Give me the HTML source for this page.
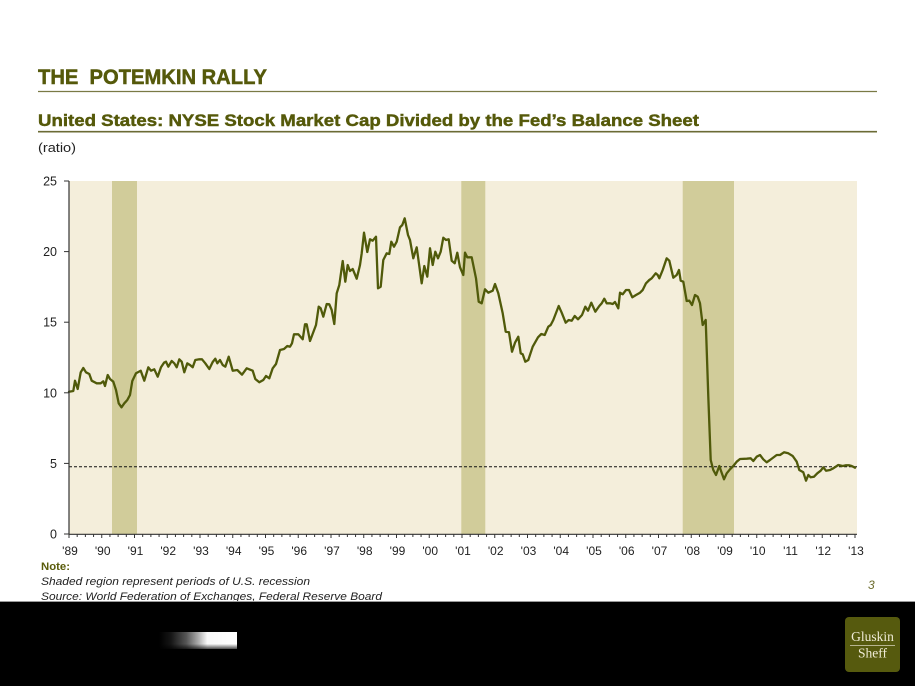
<!DOCTYPE html>
<html>
<head>
<meta charset="utf-8">
<style>
html,body{margin:0;padding:0;background:#fff;}
svg{display:block;}
</style>
</head>
<body>
<svg width="915" height="686" viewBox="0 0 915 686" xmlns="http://www.w3.org/2000/svg">
  <defs>
    <linearGradient id="gbar" x1="0" y1="0" x2="1" y2="0">
      <stop offset="0" stop-color="#000"/>
      <stop offset="0.15" stop-color="#151515"/>
      <stop offset="0.35" stop-color="#555"/>
      <stop offset="0.5" stop-color="#aaa"/>
      <stop offset="0.62" stop-color="#f8f8f8"/>
      <stop offset="1" stop-color="#fff"/>
    </linearGradient>
    <linearGradient id="gfade" x1="0" y1="0" x2="0" y2="1">
      <stop offset="0" stop-color="#000" stop-opacity="0"/>
      <stop offset="0.7" stop-color="#000" stop-opacity="0"/>
      <stop offset="1" stop-color="#000" stop-opacity="0.7"/>
    </linearGradient>
  </defs>

  <!-- Titles -->
  <text x="38" y="84" xml:space="preserve" font-family="Liberation Sans, Arial, sans-serif" font-weight="bold" font-size="21" fill="#55590a" stroke="#55590a" stroke-width="0.5" textLength="229" lengthAdjust="spacingAndGlyphs">THE  POTEMKIN RALLY</text>
  <line x1="38" y1="91.5" x2="877" y2="91.5" stroke="#7a7a45" stroke-width="1.2"/>

  <text x="38" y="126" font-family="Liberation Sans, Arial, sans-serif" font-weight="bold" font-size="17" fill="#55590a" stroke="#55590a" stroke-width="0.45" textLength="661" lengthAdjust="spacingAndGlyphs">United States: NYSE Stock Market Cap Divided by the Fed’s Balance Sheet</text>
  <line x1="38" y1="131.7" x2="877" y2="131.7" stroke="#6b6b35" stroke-width="1.6"/>

  <text x="38" y="152" font-family="Liberation Sans, Arial, sans-serif" font-size="13" fill="#222" textLength="38" lengthAdjust="spacingAndGlyphs">(ratio)</text>

  <!-- Plot area -->
  <rect x="69" y="181" width="788" height="353" fill="#f4eedb"/>
  <rect x="112" y="181" width="25" height="353" fill="#d1cc9a"/>
  <rect x="461.3" y="181" width="24" height="353" fill="#d1cc9a"/>
  <rect x="682.7" y="181" width="51.3" height="353" fill="#d1cc9a"/>

  <!-- dashed line -->
  <line x1="69" y1="466.7" x2="857" y2="466.7" stroke="#111" stroke-width="1" stroke-dasharray="3,2"/>

  <!-- series -->
  <polyline fill="none" stroke="#505a0a" stroke-width="2.3" stroke-linejoin="round" stroke-linecap="round" points="
69,391.7 73.3,391 75,380.7 77.7,389 80.7,372.3 83.3,368 86,372.3 89.3,374 91.7,380.7 96.7,383.3 100.7,383.3 103.3,381.3 105,386 107.7,375 110,379 113.3,381.7 116,390 118.7,403.3 121.5,407.3 124.3,403.3 127.3,400 130,395 132.3,381 136,373.3 140.7,370.7 144.3,380.7 148.3,367.3 151,370.7 154.3,369.3 157.7,376.7 161,367.3 164,362.7 166,361.7 168.3,366.7 171.7,361 174.3,363.3 176.7,367.3 179.3,359.3 181.7,361.7 184.3,372.3 187.3,363.3 190,365 192.7,367.3 195.3,360 199.3,359.3 202,359.3 205.3,363.3 209.3,369 212.7,362 215.3,358.7 217.3,363.3 220,360 222.7,365 225.3,366.7 228.7,356.7 232.7,370.7 237.3,370 242,374.7 246.7,368.3 252.7,370.7 255.3,379 259.3,382.3 263.3,380 266,376 269.3,378.3 272.7,368.3 276,364 280,350 284,349 287.3,346 290,346.7 292,343.3 294,334.3 298.3,334.3 302.7,339.3 305,324.3 306.7,324.3 310,341 316,325 318.7,306.7 320.7,308.3 323.3,316.7 326.7,304 329.3,304.3 331.7,310 334.3,324 336.7,293.3 339.3,285 342.7,261 345.3,281.7 347.7,265 350,271 352.7,269 356.7,278.7 360,265 361.7,253.3 364,232.7 367.3,252 370,239.3 372.7,240.7 376,236.7 378,288.3 380.7,286.7 383.3,260 386.7,253.3 389.3,254 391.3,241.7 394,246.7 396.7,241.7 400,227.3 402.3,225 404.7,218.3 408,235 410,240 413.3,258.3 416.7,247.3 421.7,283.3 424.3,266 427.3,276.7 430,248.3 432.7,265 435.3,251.7 438,258.3 440.7,251.7 443.3,237.7 446,240 448.7,239.3 451.7,260.7 454.7,263.3 457.3,252.7 460,267.3 463.3,275 465,252.7 467.3,257.3 471.7,257.3 476,278.3 478.7,301.7 481.7,303.3 485,289.3 488.3,292.7 492.7,290.7 495,284 498.3,293.3 502.7,313.3 505.7,331.7 509,332.3 512,351.7 515,342.7 518.3,336.7 520.7,353.3 522.7,354.3 525.3,361.7 528.3,360 532.7,346.7 538,337.3 541.3,334 544.7,335 548.3,326.7 550.7,325 553.3,320 558.7,306 561.7,312.7 565.7,322.7 568.7,320 571.7,320.7 574.7,316 578,319.3 582,315 585.3,306.7 588,310.7 591.3,302.7 595.3,311.7 599.3,306 601.7,303.3 604.3,298.7 606.7,303.3 610,303.3 612.7,304 615,302 618.3,308.3 620,292.7 622.7,294.3 626,290 629,290 632.3,297.3 636,295 640,292.7 642.7,290 646,283.3 649.3,280 651.7,278.3 655.7,273.3 657.7,275 659.3,278.3 662.7,270 666.7,258.3 669.3,260.7 673.3,277.7 676.7,275 679,270 680.7,280.7 683.3,281.7 686.7,301 689.3,300.7 692,305 695,295 697.7,296.7 700,303.3 702.7,325 705.7,320 708.3,396.7 710.7,460 713.3,470 716,475 719.3,466 721.3,471.7 724,479.3 726.7,473.3 730,469.3 733.3,466 736.7,461.7 740,459 746.7,458.7 750.7,458.3 753.3,461 756.7,456.7 760,455 763.3,459.3 766.7,462.3 770,460 776.7,455 780,455 784,452.3 788.3,453.3 792.7,456 796.7,461.7 799.3,470 803.3,472.3 806,480.7 808.3,475 810.7,477.3 814,476.7 817.3,473.3 820.7,470.7 823.3,467.3 826,470.7 830,470 833.3,468.3 838.3,465 842.7,466 846,465.3 849.3,465.3 851.7,466 855,467.7"/>

  <!-- axes -->
  <line x1="69" y1="181" x2="69" y2="534.5" stroke="#333" stroke-width="1.2"/>
  <line x1="68.5" y1="534.3" x2="857" y2="534.3" stroke="#333" stroke-width="1.2"/>
  <g stroke="#333" stroke-width="1">
    <line x1="64" y1="181" x2="69" y2="181"/>
    <line x1="64" y1="251.6" x2="69" y2="251.6"/>
    <line x1="64" y1="322.2" x2="69" y2="322.2"/>
    <line x1="64" y1="392.8" x2="69" y2="392.8"/>
    <line x1="64" y1="463.4" x2="69" y2="463.4"/>
    <line x1="64" y1="534" x2="69" y2="534"/>
  </g>
  <g id="xticks" stroke="#333" stroke-width="1"></g>

  <g font-family="Liberation Sans, Arial, sans-serif" font-size="12.5" fill="#222" text-anchor="end">
    <text x="57" y="185.5">25</text>
    <text x="57" y="256">20</text>
    <text x="57" y="326.7">15</text>
    <text x="57" y="397.3">10</text>
    <text x="57" y="468">5</text>
    <text x="57" y="538.5">0</text>
  </g>

  <g font-family="Liberation Sans, Arial, sans-serif" font-size="12" fill="#222" text-anchor="middle">
    <text x="70" y="555">'89</text>
    <text x="102.7" y="555">'90</text>
    <text x="135.5" y="555">'91</text>
    <text x="168.2" y="555">'92</text>
    <text x="201" y="555">'93</text>
    <text x="233.7" y="555">'94</text>
    <text x="266.5" y="555">'95</text>
    <text x="299.2" y="555">'96</text>
    <text x="332" y="555">'97</text>
    <text x="364.7" y="555">'98</text>
    <text x="397.5" y="555">'99</text>
    <text x="430.2" y="555">'00</text>
    <text x="463" y="555">'01</text>
    <text x="495.7" y="555">'02</text>
    <text x="528.5" y="555">'03</text>
    <text x="561.2" y="555">'04</text>
    <text x="594" y="555">'05</text>
    <text x="626.7" y="555">'06</text>
    <text x="659.5" y="555">'07</text>
    <text x="692.2" y="555">'08</text>
    <text x="725" y="555">'09</text>
    <text x="757.7" y="555">'10</text>
    <text x="790.5" y="555">'11</text>
    <text x="823.2" y="555">'12</text>
    <text x="856" y="555">'13</text>
  </g>

  <!-- notes -->
  <text x="41" y="570" font-family="Liberation Sans, Arial, sans-serif" font-weight="bold" font-size="11" fill="#5a5c0b" textLength="29" lengthAdjust="spacingAndGlyphs">Note:</text>
  <text x="41" y="585" font-family="Liberation Sans, Arial, sans-serif" font-style="italic" font-size="11" fill="#222" textLength="269" lengthAdjust="spacingAndGlyphs">Shaded region represent periods of U.S. recession</text>
  <text x="41" y="600" font-family="Liberation Sans, Arial, sans-serif" font-style="italic" font-size="11" fill="#222" textLength="341" lengthAdjust="spacingAndGlyphs">Source: World Federation of Exchanges, Federal Reserve Board</text>
  <text x="868" y="589" font-family="Liberation Sans, Arial, sans-serif" font-style="italic" font-size="12" fill="#6a6a2a">3</text>

  <!-- footer -->
  <rect x="0" y="601" width="915" height="1" fill="#9a9a9a"/>
  <rect x="0" y="602" width="915" height="84" fill="#000"/>
  <rect x="159" y="632" width="78" height="17" fill="url(#gbar)"/>
  <rect x="159" y="632" width="78" height="17" fill="url(#gfade)"/>

  <rect x="845" y="617" width="55" height="55" rx="4" ry="4" fill="#565a0e"/>
  <text x="872.5" y="641" text-anchor="middle" font-family="Liberation Serif, serif" font-size="13.5" fill="#efebd6">Gluskin</text>
  <line x1="850" y1="645.5" x2="895" y2="645.5" stroke="#d8d4bc" stroke-width="0.8"/>
  <text x="872.5" y="657.5" text-anchor="middle" font-family="Liberation Serif, serif" font-size="13.5" fill="#efebd6">Sheff</text>

  <script>
    (function(){
      var g=document.getElementById('xticks');
      var ns='http://www.w3.org/2000/svg';
      for(var i=0;i<=96;i++){
        var x=69+i*8.1875;
        var l=document.createElementNS(ns,'line');
        l.setAttribute('x1',x);l.setAttribute('x2',x);
        l.setAttribute('y1',534.3);l.setAttribute('y2',(i%4===0)?538:537);
        g.appendChild(l);
      }
    })();
  </script>
</svg>
</body>
</html>
